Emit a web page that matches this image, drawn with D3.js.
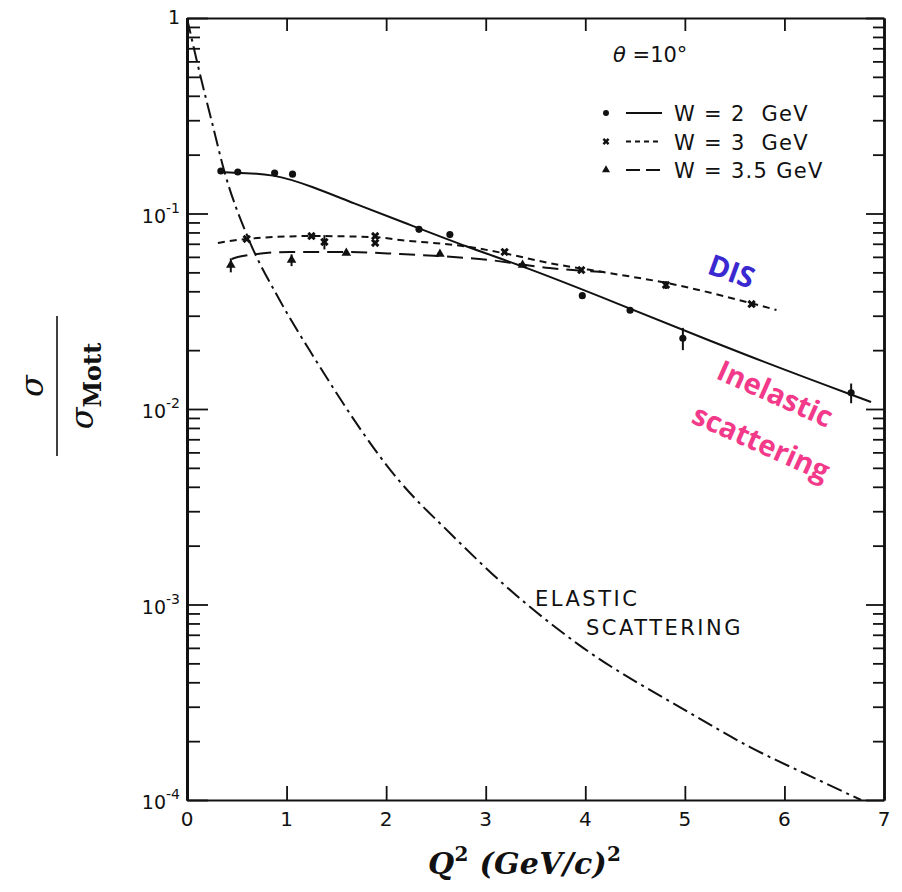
<html>
<head>
<title>sigma / sigma Mott vs Q2</title>
<script src="https://cdn.jsdelivr.net/npm/d3@7"></script>
<style>
  * { margin: 0; padding: 0; }
  body { background: #fff; }
  #chart { width: 902px; height: 892px; }
  text { white-space: pre; }
</style>
</head>
<body>
<div id="chart"></div>
<script>
// ---- data ----
// W = 2 GeV (solid)
var w2Q = [0.34, 0.51, 0.88, 1.06, 2.33, 2.64, 3.97, 4.45, 4.98, 6.67];
var w2V = [0.165, 0.163, 0.161, 0.159, 0.083, 0.078, 0.038, 0.032, 0.023, 0.0121];
var w2E = [0, 0, 0, 0, 0, 0, 0, 0, 0.003, 0.0014];
var w2CurveQ = [0.35, 0.40, 0.88, 1.26, 1.67, 2.14, 2.84, 3.37, 4.24, 5.65, 6.87];
var w2CurveV = [0.163, 0.162, 0.160, 0.137, 0.113, 0.0916, 0.0666, 0.0539, 0.0361, 0.01845, 0.01086];

// W = 3 GeV (short dash)
var w3Q = [0.60, 1.25, 1.38, 1.89, 1.89, 3.19, 3.96, 4.81, 5.67];
var w3V = [0.0741, 0.0767, 0.0715, 0.0767, 0.0707, 0.0636, 0.0514, 0.0431, 0.0344];
var w3E = [0, 0, 0.006, 0, 0, 0, 0, 0.002, 0];
var w3CurveQ = [0.31, 0.60, 1.26, 1.87, 2.14, 2.84, 3.17, 3.64, 4.24, 4.77, 5.92];
var w3CurveV = [0.0707, 0.0741, 0.0767, 0.0758, 0.0732, 0.0674, 0.0628, 0.0558, 0.0496, 0.0446, 0.0321];

// W = 3.5 GeV (long dash)
var w35Q = [0.44, 1.05, 1.60, 2.54, 3.37];
var w35V = [0.0545, 0.0578, 0.0628, 0.0620, 0.0545];
var w35E = [0.0045, 0.004, 0, 0, 0];
var w35CurveQ = [0.45, 0.51, 1.03, 1.61, 2.14, 3.04, 3.64, 4.19];
var w35CurveV = [0.0585, 0.0599, 0.0636, 0.0636, 0.0620, 0.0578, 0.0526, 0.0502];

// elastic scattering (dash-dot)
var elQ = [0.0, 0.13, 0.25, 0.38, 0.61, 0.93, 1.26, 2.14, 2.64, 3.21, 3.94, 5.05, 5.65, 6.28, 6.77];
var elV = [1.0, 0.517, 0.294, 0.161, 0.0758, 0.0361, 0.0189, 0.00424, 0.00232, 0.00123, 0.00062, 0.000279, 0.000187, 0.000131, 0.0001];

var xTicks = [0, 1, 2, 3, 4, 5, 6, 7];
var yMajor = [1, 0.1, 0.01, 0.001, 0.0001];
var yExp = ["", "-1", "-2", "-3", "-4"];
var legendNames = ["W = 2  GeV", "W = 3  GeV", "W = 3.5 GeV"];

(function() {
  var svg = d3.select('#chart').append('svg')
      .attr('width', 902)
      .attr('height', 892);

  var x = d3.scaleLinear().domain([0, 7]).range([187, 884]);
  var y = d3.scaleLog().domain([0.0001, 1]).range([800, 18]);

  var zip = function(qs, vs) { return qs.map(function(q, i) { return [q, vs[i]]; }); };
  var line = d3.line()
      .x(function(d) { return x(d[0]); })
      .y(function(d) { return y(d[1]); })
      .curve(d3.curveMonotoneX);
  var smooth = d3.line()
      .x(function(d) { return x(d[0]); })
      .y(function(d) { return y(d[1]); })
      .curve(d3.curveBasis);

  var tickFont = 'DejaVu Sans';

  // frame / axes
  var minor = y.ticks().filter(function(v) { return yMajor.indexOf(v) < 0; });
  function styleAxis(g, w) {
    g.select('.domain').attr('stroke', '#111').attr('stroke-width', w);
    g.selectAll('.tick line').attr('stroke', '#111').attr('stroke-width', 1.8);
    g.selectAll('.tick text').remove();
  }
  svg.append('g').attr('transform', 'translate(187,0)')
      .call(d3.axisLeft(y).tickValues(minor).tickSize(-13).tickSizeOuter(0))
      .call(styleAxis, 3);
  svg.append('g').attr('transform', 'translate(187,0)')
      .call(d3.axisLeft(y).tickValues(yMajor).tickSize(-21).tickSizeOuter(0))
      .call(styleAxis, 3);
  svg.append('g').attr('transform', 'translate(884,0)')
      .call(d3.axisRight(y).tickValues(minor).tickSize(-11).tickSizeOuter(0))
      .call(styleAxis, 2.5);
  svg.append('g').attr('transform', 'translate(884,0)')
      .call(d3.axisRight(y).tickValues(yMajor).tickSize(-18).tickSizeOuter(0))
      .call(styleAxis, 2.5);
  svg.append('g').attr('transform', 'translate(0,800)')
      .call(d3.axisBottom(x).tickValues(xTicks.slice(1, 7)).tickSize(-14).tickSizeOuter(0))
      .call(styleAxis, 2.2);
  svg.append('g').attr('transform', 'translate(0,18)')
      .call(d3.axisTop(x).tickValues(xTicks.slice(1, 7)).tickSize(-13).tickSizeOuter(0))
      .call(styleAxis, 1.8);

  // tick labels
  svg.selectAll('.xlab').data(xTicks).enter().append('text')
      .attr('x', function(d) { return x(d); })
      .attr('y', 826)
      .attr('text-anchor', 'middle')
      .attr('font-family', tickFont)
      .attr('font-size', 20)
      .attr('fill', '#111')
      .text(function(d) { return d; });

  var ylab = svg.selectAll('.ylab').data(yMajor).enter().append('text')
      .attr('x', 180)
      .attr('y', function(d) { return y(d) + 9; })
      .attr('text-anchor', 'end')
      .attr('font-family', tickFont)
      .attr('font-size', 19)
      .attr('fill', '#111');
  ylab.each(function(d, i) {
    var t = d3.select(this);
    if (yExp[i] === '') { t.attr('y', y(d) + 6).text('1'); return; }
    t.append('tspan').text('10');
    t.append('tspan').attr('dy', -10).attr('font-size', 14).text(yExp[i]);
  });

  // curves
  var curves = [
    {d: zip(elQ, elV), dash: '16,5,3,5', gen: line},
    {d: zip(w2CurveQ, w2CurveV), dash: null, gen: smooth},
    {d: zip(w3CurveQ, w3CurveV), dash: '7,5', gen: line},
    {d: zip(w35CurveQ, w35CurveV), dash: '16,8', gen: line}
  ];
  svg.selectAll('.curve').data(curves).enter().append('path')
      .attr('d', function(c) { return c.gen(c.d); })
      .attr('fill', 'none')
      .attr('stroke', '#111')
      .attr('stroke-width', 2)
      .attr('stroke-dasharray', function(c) { return c.dash; });

  // points
  var sets = [
    {q: w2Q, v: w2V, e: w2E, sym: d3.symbolCircle, size: 40, rot: 0},
    {q: w3Q, v: w3V, e: w3E, sym: d3.symbolCross, size: 45, rot: 45},
    {q: w35Q, v: w35V, e: w35E, sym: d3.symbolTriangle, size: 40, rot: 0}
  ];
  sets.forEach(function(s) {
    var pts = s.q.map(function(q, i) { return {q: q, v: s.v[i], e: s.e[i]}; });
    svg.selectAll(null).data(pts.filter(function(p) { return p.e > 0; })).enter().append('line')
        .attr('x1', function(p) { return x(p.q); })
        .attr('x2', function(p) { return x(p.q); })
        .attr('y1', function(p) { return y(p.v + p.e); })
        .attr('y2', function(p) { return y(p.v - p.e); })
        .attr('stroke', '#111')
        .attr('stroke-width', 2);
    svg.selectAll(null).data(pts).enter().append('path')
        .attr('d', d3.symbol().type(s.sym).size(s.size))
        .attr('transform', function(p) {
          return 'translate(' + x(p.q) + ',' + y(p.v) + ') rotate(' + s.rot + ')';
        })
        .attr('fill', '#111');
  });

  // theta + legend
  var th = svg.append('text').attr('x', 613).attr('y', 62)
      .attr('font-family', tickFont).attr('font-size', 21).attr('fill', '#111');
  th.append('tspan').attr('font-style', 'italic').text('\u03B8');
  th.append('tspan').text(' =10\u00B0');

  var legDash = [null, '5,4', '14,6'];
  legendNames.forEach(function(name, i) {
    var ly = 113 + i * 28.5;
    svg.append('path')
        .attr('d', d3.symbol().type(sets[i].sym).size(i === 1 ? 30 : 28))
        .attr('transform', 'translate(606,' + ly + ') rotate(' + sets[i].rot + ')')
        .attr('fill', '#111');
    svg.append('line')
        .attr('x1', 626).attr('x2', 662).attr('y1', ly).attr('y2', ly)
        .attr('stroke', '#111').attr('stroke-width', 1.8)
        .attr('stroke-dasharray', legDash[i]);
    svg.append('text')
        .attr('x', 674).attr('y', ly + 8)
        .attr('font-family', tickFont).attr('font-size', 21)
        .attr('letter-spacing', 1.3)
        .attr('fill', '#111')
        .text(name);
  });

  // elastic label
  svg.append('text').attr('x', 535).attr('y', 606)
      .attr('font-family', tickFont).attr('font-size', 21).attr('letter-spacing', 2.5)
      .attr('fill', '#111').text('ELASTIC');
  svg.append('text').attr('x', 586).attr('y', 635)
      .attr('font-family', tickFont).attr('font-size', 21).attr('letter-spacing', 2.5)
      .attr('fill', '#111').text('SCATTERING');

  // coloured annotations
  svg.append('text')
      .attr('transform', 'translate(728,281) rotate(20)')
      .attr('text-anchor', 'middle')
      .attr('font-family', 'Open Sans').attr('font-weight', 'bold').attr('font-size', 29)
      .attr('fill', '#3a28d0').text('DIS');
  svg.append('text')
      .attr('transform', 'translate(771,403) rotate(24)')
      .attr('text-anchor', 'middle')
      .attr('font-family', 'Open Sans').attr('font-weight', 'bold').attr('font-size', 29)
      .attr('fill', '#f2398a').text('Inelastic');
  svg.append('text')
      .attr('transform', 'translate(757,452) rotate(24)')
      .attr('text-anchor', 'middle')
      .attr('font-family', 'Open Sans').attr('font-weight', 'bold').attr('font-size', 29)
      .attr('fill', '#f2398a').text('scattering');

  // x title
  var xt = svg.append('text').attr('x', 428).attr('y', 874)
      .attr('font-family', 'DejaVu Serif').attr('font-weight', 'bold').attr('font-style', 'italic')
      .attr('font-size', 30).attr('letter-spacing', 0.3).attr('fill', '#111');
  xt.append('tspan').text('Q');
  xt.append('tspan').attr('dy', -13).attr('font-size', 20).attr('font-style', 'normal').text('2');
  xt.append('tspan').attr('dy', 13).text(' (GeV/c)');
  xt.append('tspan').attr('dy', -13).attr('font-size', 20).attr('font-style', 'normal').text('2');

  // y title (fraction)
  var yt = svg.append('g').attr('transform', 'translate(57,386) rotate(-90)');
  yt.append('line').attr('x1', -70).attr('x2', 70).attr('y1', 0).attr('y2', 0)
      .attr('stroke', '#111').attr('stroke-width', 1.6);
  yt.append('text').attr('x', 0).attr('y', -14).attr('text-anchor', 'middle')
      .attr('font-family', 'DejaVu Serif').attr('font-style', 'italic').attr('font-size', 32)
      .attr('fill', '#111').text('\u03C3');
  var den = yt.append('text').attr('x', 0).attr('y', 36).attr('text-anchor', 'middle')
      .attr('font-family', 'DejaVu Serif').attr('font-size', 32).attr('fill', '#111');
  den.append('tspan').attr('font-style', 'italic').text('\u03C3');
  den.append('tspan').attr('dy', 8).attr('font-size', 24).attr('font-weight', 'bold').text('Mott');
})();
</script>
</body>
</html>
